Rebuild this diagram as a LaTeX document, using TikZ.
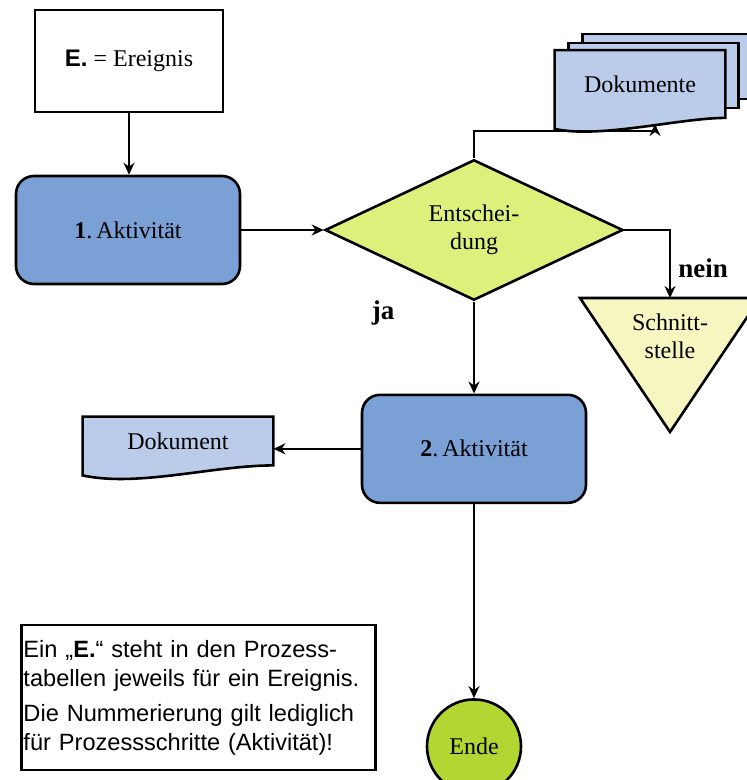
\documentclass[tikz,border=0pt]{standalone}
\usepackage{fontspec}
\setmainfont{Liberation Serif}
\setsansfont{Liberation Sans}
\usepackage{tikz}
\usetikzlibrary{shapes.geometric, arrows.meta, positioning}
\usetikzlibrary{calc, backgrounds}
\definecolor{aktblau}{RGB}{122,160,214}
\definecolor{dokblau}{RGB}{186,204,234}
\definecolor{entgelb}{RGB}{222,240,124}
\definecolor{sstgelb}{RGB}{245,246,192}
\definecolor{endgruen}{RGB}{178,214,50}
\tikzstyle{ereignis} = [rectangle, minimum width=94pt, minimum height=51pt, text centered, draw=black, line width=1.3pt, fill=white]
\tikzstyle{aktivitaet} = [rectangle, rounded corners=9pt, minimum width=112pt, minimum height=54pt, text centered, draw=black, line width=1.3pt, fill=aktblau]
\tikzstyle{entscheidung} = [diamond, minimum width=149pt, minimum height=63pt, inner sep=0pt, align=center, draw=black, line width=1.3pt, fill=entgelb]
\tikzstyle{dokument} = [rectangle, minimum width=95pt, minimum height=24pt, text centered]
\tikzstyle{docrand} = [draw=black, line width=1.3pt, fill=dokblau]
\tikzstyle{schnitt} = [draw=black, line width=1.3pt, fill=sstgelb]
\tikzstyle{ende} = [circle, minimum size=47pt, draw=black, line width=1.3pt, fill=endgruen]
\tikzstyle{hinweis} = [rectangle, draw=black, line width=1.3pt, text width=175pt, inner sep=1pt, minimum height=72.5pt, align=left, font=\sffamily\fontsize{11.8}{14.5}\selectfont]
\tikzstyle{marke} = [font=\bfseries\fontsize{13.5}{15}\selectfont]
\tikzstyle{arrow} = [line width=1pt,->,>={Stealth[length=6pt,width=5.5pt]}]

\begin{document}
\begin{tikzpicture}[x=0.5pt, y=-0.5pt, font=\fontsize{12}{14}\selectfont]
\useasboundingbox (0,0) rectangle (747,780);

% Nodes
\node (ereignis) [ereignis] at (129,61) {{\sffamily\bfseries E.} = Ereignis};
\node (akt1) [aktivitaet] at (128,230) {\textbf{1}.\,Aktivität};
\node (ent) [entscheidung] at (474,230) {Entschei-\\dung};
\node (akt2) [aktivitaet, below=46pt of ent] {\textbf{2}.\,Aktivität};
\node (dok) [dokument] at (178,441) {Dokument};
\node (doks) [dokument, minimum width=85pt, minimum height=33.5pt] at (640,84) {Dokumente};
\node (ende) [ende, below=97pt of akt2] {Ende};
\node (hinweis) [hinweis] at (198.5,697.5) {Ein „\textbf{E.}“ steht in den Prozess-\\tabellen jeweils für ein Ereignis.\\[3pt]Die Nummerierung gilt lediglich\\für Prozessschritte (Aktivität)!};

% Schnittstelle
\begin{scope}
\clip (0,0) rectangle (747,780);
\draw [schnitt] (580,298) -- (760,298) -- (670,432) -- cycle;
\end{scope}
\node (sst) [align=center] at (670,336) {Schnitt-\\stelle};
\coordinate (sstop) at (670,298);
\coordinate (dokin) at (655,124);

% Dokument shapes
\begin{scope}[on background layer]
\clip (0,0) rectangle (747,780);
\draw [docrand] ($(doks.north west)+(28,-16)$) rectangle ($(doks.south east)+(35,-19)$);
\draw [docrand] ($(doks.north west)+(14,-7)$) rectangle ($(doks.south east)+(13,-10)$);
\draw [docrand] (doks.north west) -- (doks.north east) -- (doks.south east) .. controls +(-45,0) and +(45,10) .. ($(doks.south west)+(0,11)$) -- cycle;
\draw [docrand] (dok.north west) -- (dok.north east) -- (dok.south east) .. controls +(-60,0) and +(55,12) .. ($(dok.south west)+(0,10)$) -- cycle;
\end{scope}

% Labels
\node (nein) [marke] at (703,268) {nein};
\node (ja) [marke] at (383,313) {ja};

% Arrows
\draw [arrow] (ereignis.south) -- (ereignis.south |- akt1.north);
\draw [arrow] (akt1.east) -- (ent.west);
\draw [arrow] (ent.north) -- ++(0,-27) -| (dokin);
\draw [arrow] (ent.east) -| (sstop);
\draw [arrow] (ent.south) -- (akt2.north);
\draw [arrow] (akt2.west) -- (akt2.west -| dok.east);
\draw [arrow] (akt2.south) -- (ende.north);

\end{tikzpicture}
\end{document}
